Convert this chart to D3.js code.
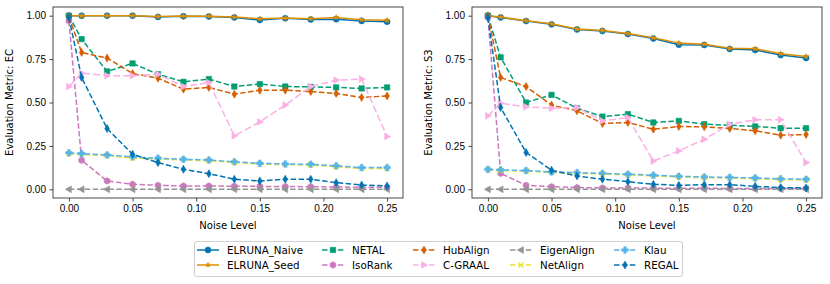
<!DOCTYPE html>
<html>
<head>
<meta charset="utf-8">
<script src="https://cdn.jsdelivr.net/npm/d3@7"></script>
<style>
  body { margin: 0; background: #fff; }
  svg { font-family: "DejaVu Sans", sans-serif; }
  .axis text { font-size: 10px; fill: #000; }
  .axis path, .axis line { stroke: #333; stroke-width: 0.9; }
</style>
</head>
<body>
<svg id="chart" width="830" height="284"></svg>
<script>
'use strict';

var noise = [0, 0.01, 0.03, 0.05, 0.07, 0.09, 0.11, 0.13, 0.15, 0.17, 0.19, 0.21, 0.23, 0.25];
var xTicks = [0, 0.05, 0.10, 0.15, 0.20, 0.25];
var yTicks = [0, 0.25, 0.5, 0.75, 1.0];
var methods = ['ELRUNA_Naive', 'ELRUNA_Seed', 'NETAL', 'IsoRank', 'HubAlign', 'C-GRAAL', 'EigenAlign', 'NetAlign', 'Klau', 'REGAL'];

// EC
var ecNaive = [1.0, 1.0, 1.0, 1.0, 0.993, 0.997, 0.995, 0.99, 0.975, 0.985, 0.978, 0.98, 0.97, 0.965];
var ecSeed = [1.0, 1.0, 1.0, 1.0, 0.995, 0.998, 0.997, 0.992, 0.982, 0.987, 0.982, 0.99, 0.977, 0.973];
var ecNetal = [1.0, 0.865, 0.679, 0.725, 0.663, 0.619, 0.635, 0.592, 0.606, 0.592, 0.59, 0.587, 0.581, 0.587];
var ecIsoRank = [0.97, 0.167, 0.048, 0.029, 0.023, 0.019, 0.019, 0.018, 0.017, 0.016, 0.015, 0.013, 0.012, 0.011];
var ecHubAlign = [0.995, 0.788, 0.756, 0.667, 0.64, 0.577, 0.587, 0.548, 0.571, 0.571, 0.563, 0.552, 0.529, 0.538];
var ecCgraal = [0.592, 0.669, 0.654, 0.654, 0.663, 0.592, 0.615, 0.308, 0.388, 0.485, 0.592, 0.629, 0.635, 0.304];
var ecEigen = [0, 0, 0, 0, 0, 0, 0, 0, 0, 0, 0, 0, 0, 0];
var ecNetAlign = [0.205, 0.2, 0.195, 0.18, 0.175, 0.17, 0.165, 0.155, 0.145, 0.142, 0.14, 0.13, 0.12, 0.12];
var ecKlau = [0.21, 0.206, 0.198, 0.187, 0.179, 0.173, 0.169, 0.158, 0.15, 0.146, 0.144, 0.135, 0.125, 0.125];
var ecRegal = [0.99, 0.644, 0.35, 0.202, 0.154, 0.115, 0.09, 0.058, 0.048, 0.058, 0.058, 0.038, 0.025, 0.019];

// S3
var s3Naive = [1.0, 0.99, 0.969, 0.95, 0.921, 0.912, 0.894, 0.869, 0.833, 0.831, 0.808, 0.802, 0.773, 0.756];
var s3Seed = [1.0, 0.992, 0.971, 0.953, 0.923, 0.915, 0.897, 0.873, 0.842, 0.836, 0.812, 0.81, 0.781, 0.765];
var s3Netal = [1.0, 0.76, 0.5, 0.544, 0.467, 0.419, 0.433, 0.385, 0.394, 0.375, 0.369, 0.362, 0.352, 0.352];
var s3IsoRank = [0.99, 0.092, 0.023, 0.015, 0.01, 0.008, 0.007, 0.007, 0.006, 0.006, 0.005, 0.005, 0.005, 0.005];
var s3HubAlign = [1.0, 0.644, 0.592, 0.485, 0.452, 0.379, 0.385, 0.346, 0.362, 0.36, 0.35, 0.337, 0.312, 0.315];
var s3Cgraal = [0.423, 0.496, 0.475, 0.467, 0.471, 0.394, 0.413, 0.163, 0.221, 0.288, 0.375, 0.4, 0.4, 0.154];
var s3Eigen = [0, 0, 0, 0, 0, 0, 0, 0, 0, 0, 0, 0, 0, 0];
var s3NetAlign = [0.113, 0.108, 0.105, 0.097, 0.092, 0.088, 0.083, 0.077, 0.071, 0.067, 0.065, 0.061, 0.056, 0.054];
var s3Klau = [0.115, 0.112, 0.108, 0.1, 0.096, 0.092, 0.087, 0.081, 0.075, 0.071, 0.069, 0.065, 0.06, 0.058];
var s3Regal = [0.99, 0.471, 0.212, 0.11, 0.077, 0.058, 0.044, 0.029, 0.023, 0.027, 0.027, 0.017, 0.01, 0.008];

var styles = {
  'ELRUNA_Naive': {color: '#0173b2', dash: null, marker: 'circle'},
  'ELRUNA_Seed': {color: '#de8f05', dash: null, marker: 'star'},
  'NETAL': {color: '#029e73', dash: '5.5,2.4', marker: 'square'},
  'IsoRank': {color: '#cc78bc', dash: '5.5,2.4', marker: 'hexagon'},
  'HubAlign': {color: '#d55e00', dash: '5.5,2.4', marker: 'diamond'},
  'C-GRAAL': {color: '#fbafe4', dash: '7,3', marker: 'right'},
  'EigenAlign': {color: '#949494', dash: '5.5,2.4', marker: 'left'},
  'NetAlign': {color: '#ece133', dash: '5.5,2.4', marker: 'x'},
  'Klau': {color: '#56b4e9', dash: '5.5,2.4', marker: 'plus'},
  'REGAL': {color: '#0173b2', dash: '5.5,2.4', marker: 'diamond'}
};

var panels = [
  {label: 'Evaluation Metric: EC', left: 53,
   data: [ecNaive, ecSeed, ecNetal, ecIsoRank, ecHubAlign, ecCgraal, ecEigen, ecNetAlign, ecKlau, ecRegal]},
  {label: 'Evaluation Metric: S3', left: 472,
   data: [s3Naive, s3Seed, s3Netal, s3IsoRank, s3HubAlign, s3Cgraal, s3Eigen, s3NetAlign, s3Klau, s3Regal]}
];

var svg = d3.select('#chart');
var plotTop = 7, plotW = 350, plotH = 191;

function markerPath(kind) {
  switch (kind) {
    case 'circle': return d3.symbol(d3.symbolCircle, 28)();
    case 'star': return d3.symbol(d3.symbolStar, 9)();
    case 'square': return 'M-2.7,-2.7H2.7V2.7H-2.7Z';
    case 'hexagon': return d3.line()(d3.range(6).map(function (i) {
      var a = Math.PI / 6 + i * Math.PI / 3;
      return [3.3 * Math.cos(a), 3.3 * Math.sin(a)];
    })) + 'Z';
    case 'diamond': return 'M0,-4L2.3,0L0,4L-2.3,0Z';
    case 'right': return 'M3.6,0L-2.4,-3.4L-2.4,3.4Z';
    case 'left': return 'M-3.6,0L2.4,-3.4L2.4,3.4Z';
    case 'x': return 'M-2.6,-2.6L2.6,2.6M-2.6,2.6L2.6,-2.6';
    case 'plus': return 'M-1.2,-3.3H1.2V-1.2H3.3V1.2H1.2V3.3H-1.2V1.2H-3.3V-1.2H-1.2Z';
  }
}

function drawMarker(g, kind, color, x, y) {
  var p = g.append('path')
    .attr('d', markerPath(kind))
    .attr('transform', 'translate(' + x + ',' + y + ')');
  if (kind === 'x') {
    p.attr('fill', 'none').attr('stroke', color).attr('stroke-width', 1.2);
  } else {
    p.attr('fill', color).attr('stroke', color).attr('stroke-width', 0.6);
  }
}

panels.forEach(function (panel) {
  var x = d3.scaleLinear().domain([-0.0125, 0.2625]).range([panel.left, panel.left + plotW]);
  var y = d3.scaleLinear().domain([-0.05, 1.05]).range([plotTop + plotH, plotTop]);

  var line = d3.line()
    .x(function (d, i) { return x(noise[i]); })
    .y(function (d) { return y(d); });

  var g = svg.append('g');

  panel.data.forEach(function (vals, k) {
    var st = styles[methods[k]];
    g.append('path')
      .datum(vals)
      .attr('d', line)
      .attr('fill', 'none')
      .attr('stroke', st.color)
      .attr('stroke-width', 1.5)
      .attr('stroke-dasharray', st.dash);
    vals.forEach(function (v, i) {
      drawMarker(g, st.marker, st.color, x(noise[i]), y(v));
    });
  });

  // frame
  g.append('rect')
    .attr('x', panel.left).attr('y', plotTop)
    .attr('width', plotW).attr('height', plotH)
    .attr('fill', 'none').attr('stroke', '#333').attr('stroke-width', 0.9);

  g.append('g')
    .attr('class', 'axis')
    .attr('transform', 'translate(0,' + (plotTop + plotH) + ')')
    .call(d3.axisBottom(x).tickValues(xTicks).tickSize(3.5).tickPadding(3.5).tickFormat(d3.format('.2f')))
    .call(function (a) { a.select('.domain').remove(); });

  g.append('g')
    .attr('class', 'axis')
    .attr('transform', 'translate(' + panel.left + ',0)')
    .call(d3.axisLeft(y).tickValues(yTicks).tickSize(3.5).tickPadding(3.5).tickFormat(d3.format('.2f')))
    .call(function (a) { a.select('.domain').remove(); });

  g.append('text')
    .attr('x', panel.left + plotW / 2)
    .attr('y', 229)
    .attr('text-anchor', 'middle')
    .attr('font-size', 10)
    .text('Noise Level');

  g.append('text')
    .attr('transform', 'translate(' + (panel.left - 40) + ',' + (plotTop + plotH / 2) + ') rotate(-90)')
    .attr('text-anchor', 'middle')
    .attr('font-size', 10)
    .text(panel.label);
});

// legend
var legend = svg.append('g');
legend.append('rect')
  .attr('x', 194.5).attr('y', 241.5)
  .attr('width', 488).attr('height', 35)
  .attr('rx', 2.5)
  .attr('fill', '#fff')
  .attr('stroke', '#d0d0d0')
  .attr('stroke-width', 1);

var colX = [197, 322, 413, 510, 614];
var rowY = [250, 265];
methods.forEach(function (name, k) {
  var st = styles[name];
  var cx = colX[Math.floor(k / 2)];
  var cy = rowY[k % 2];
  legend.append('line')
    .attr('x1', cx).attr('x2', cx + 22)
    .attr('y1', cy).attr('y2', cy)
    .attr('stroke', st.color)
    .attr('stroke-width', 1.5)
    .attr('stroke-dasharray', st.dash ? '5.5,2.4' : null);
  drawMarker(legend, st.marker, st.color, cx + 11, cy);
  legend.append('text')
    .attr('x', cx + 30)
    .attr('y', cy)
    .attr('dy', '0.35em')
    .attr('font-size', 10.3)
    .text(name);
});
</script>
</body>
</html>
